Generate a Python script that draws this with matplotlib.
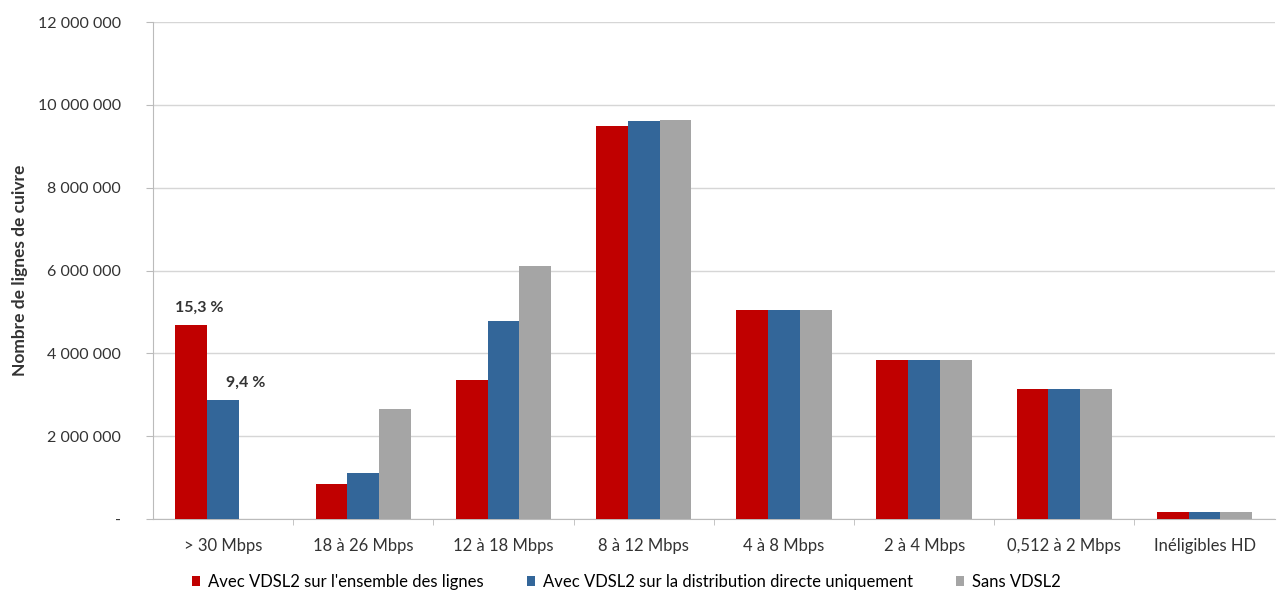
import numpy as np
import matplotlib.pyplot as plt
from matplotlib.ticker import FuncFormatter

# categories and values (number of copper lines)
categories = ['> 30 Mbps', '18 à 26 Mbps', '12 à 18 Mbps', '8 à 12 Mbps',
              '4 à 8 Mbps', '2 à 4 Mbps', '0,512 à 2 Mbps', 'Inéligibles HD']
avec_ensemble = [4680000, 840000, 3350000, 9490000, 5040000, 3830000, 3130000, 170000]
avec_distrib = [2870000, 1100000, 4770000, 9610000, 5040000, 3830000, 3130000, 170000]
sans_vdsl2 = [0, 2650000, 6100000, 9640000, 5040000, 3830000, 3130000, 170000]
series_names = ["Avec VDSL2 sur l'ensemble des lignes",
                "Avec VDSL2 sur la distribution directe uniquement",
                "Sans VDSL2"]
pct_labels = ['15,3 %', '9,4 %']

colors = ['#C00000', '#336699', '#A5A5A5']
plt.rcParams['font.family'] = ['Lato', 'DejaVu Sans']

fig = plt.figure(figsize=(12.79, 5.92), dpi=100)
ax = fig.add_axes([0.1196, 0.1233, 0.877, 0.8395])

x = np.arange(len(categories))
w = 0.227
for k, vals in enumerate([avec_ensemble, avec_distrib, sans_vdsl2]):
    ax.bar(x + (k - 1) * w, vals, w, color=colors[k], label=series_names[k], zorder=3)

# percentage labels on the first group
ax.text(x[0] - 1.5 * w, avec_ensemble[0] + 250000, pct_labels[0],
        fontsize=11.5, fontweight='bold', color='#333333', ha='left', va='bottom')
ax.text(x[0] + 0.1 * w, avec_distrib[0] + 250000, pct_labels[1],
        fontsize=11.5, fontweight='bold', color='#333333', ha='left', va='bottom')

ax.set_xlim(-0.5, len(categories) - 0.5)
ax.set_ylim(0, 12000000)
ax.set_yticks(np.arange(0, 12000001, 2000000))


def fmt(v, pos):
    if v == 0:
        return '-'
    return '{:,.0f}'.format(v).replace(',', ' ')


ax.yaxis.set_major_formatter(FuncFormatter(fmt))
ax.set_xticks(x)
ax.set_xticklabels(categories)
ax.tick_params(axis='x', length=0, pad=14, labelsize=12, colors='#333333')
ax.tick_params(axis='y', length=5, pad=18, labelsize=11.5, labelcolor='#333333', color='#BBBBBB')
# small tick marks between categories
ax.set_xticks(np.arange(0.5, len(categories) - 0.5, 1), minor=True)
ax.tick_params(axis='x', which='minor', length=4, color='#BBBBBB')

ax.grid(axis='y', color='#D6D6D6', linewidth=1, zorder=0)
for s in ['top', 'right']:
    ax.spines[s].set_visible(False)
ax.spines['left'].set_color('#BBBBBB')
ax.spines['bottom'].set_color('#BBBBBB')

ax.set_ylabel('Nombre de lignes de cuivre', fontsize=12.5, fontweight='bold', color='#333333', labelpad=7)

ax.legend(loc='upper center', bbox_to_anchor=(0.422, -0.08), ncol=3, frameon=False,
          fontsize=12, handlelength=0.5, handleheight=0.55, handletextpad=0.45, columnspacing=2.6)

fig.savefig('out.png', dpi=100)
